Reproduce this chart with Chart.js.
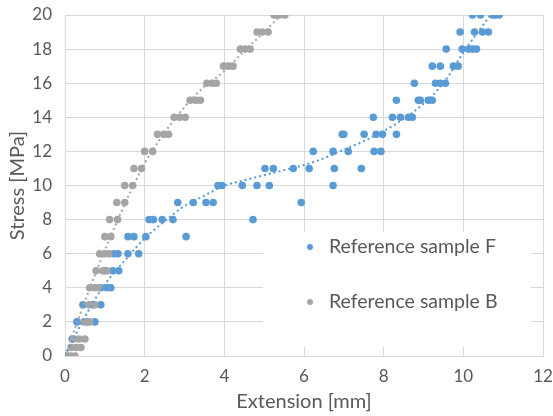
<!DOCTYPE html>
<html lang="en">
<head>
    <meta charset="UTF-8">
    <title>Stress vs Extension</title>
    <script src="https://cdn.jsdelivr.net/npm/chart.js"></script>
    <style>
        html, body { margin: 0; padding: 0; background: #fff; }
        #wrap { width: 553px; height: 416px; }
    </style>
</head>
<body>
    <div id="wrap"><canvas id="stressChart" width="553" height="416"></canvas></div>

    <script>
        // Reference sample F (blue)
        const sampleFx = [0.05, 0.18, 0.3, 0.55, 0.75, 0.45, 0.7, 0.9, 0.9, 1.05, 1.15, 1.0, 1.2, 1.35,
            1.22, 1.33, 1.58, 1.85, 1.58, 1.73, 2.03, 3.04, 2.11, 2.22, 2.44, 2.71, 4.72,
            2.83, 3.22, 3.54, 3.72, 5.93, 3.84, 3.94, 4.45, 4.82, 5.13, 6.73,
            5.02, 5.23, 5.73, 6.13, 6.76, 7.44, 6.23, 6.73, 7.11, 7.76, 7.93,
            6.96, 7.0, 7.51, 7.81, 7.97, 8.32, 7.74, 8.22, 8.42, 8.62, 8.72,
            8.32, 8.87, 8.92, 9.12, 9.22, 8.77, 9.3, 9.42, 9.55, 9.22, 9.42, 9.75, 9.87,
            9.57, 9.97, 10.13, 10.23, 10.33, 9.92, 10.28, 10.48, 10.63,
            10.23, 10.43, 10.73, 10.8, 10.9];
        const sampleFy = [0, 1, 2, 2, 2, 3, 3, 3, 4, 4, 4, 5, 5, 5,
            6, 6, 6, 6, 7, 7, 7, 7, 8, 8, 8, 8, 8,
            9, 9, 9, 9, 9, 10, 10, 10, 10, 10, 10,
            11, 11, 11, 11, 11, 11, 12, 12, 12, 12, 12,
            13, 13, 13, 13, 13, 13, 14, 14, 14, 14, 14,
            15, 15, 15, 15, 15, 16, 16, 16, 16, 17, 17, 17, 17,
            18, 18, 18, 18, 18, 19, 19, 19, 19,
            20, 20, 20, 20, 20];

        // Reference sample B (grey)
        const sampleBx = [0.05, 0.15, 0.25, 0.15, 0.28, 0.4, 0.22, 0.35, 0.5, 0.47, 0.62,
            0.6, 0.75, 0.62, 0.75, 0.85, 0.78, 0.95, 1.05, 0.87, 1.0, 1.1,
            1.0, 1.15, 1.12, 1.32, 1.3, 1.5, 1.5, 1.7, 1.73, 1.92, 2.0, 2.2,
            2.32, 2.48, 2.6, 2.74, 2.88, 3.02, 3.14, 3.28, 3.4, 3.56, 3.7, 3.8,
            3.98, 4.1, 4.22, 4.4, 4.52, 4.65, 4.82, 4.95, 5.1, 5.25, 5.38, 5.52];
        const sampleBy = [0, 0, 0, 0.5, 0.5, 0.5, 1, 1, 1, 2, 2,
            3, 3, 4, 4, 4, 5, 5, 5, 6, 6, 6,
            7, 7, 8, 8, 9, 9, 10, 10, 11, 11, 12, 12,
            13, 13, 13, 14, 14, 14, 15, 15, 15, 16, 16, 16,
            17, 17, 17, 18, 18, 18, 19, 19, 19, 20, 20, 20];

        // dotted trendlines
        const trendFx = [0, 0.5, 1, 1.5, 2, 2.5, 3, 3.5, 4, 4.5, 5, 5.5, 6, 6.5, 7, 7.5, 8, 8.5, 9, 9.5, 10, 10.68];
        const trendFy = [0, 2.3, 4.2, 5.6, 6.9, 7.9, 8.8, 9.4, 10.0, 10.3, 10.6, 10.9, 11.2, 11.6, 12.1, 12.6, 13.2, 13.9, 14.8, 16.0, 17.8, 20];
        const trendBx = [0, 0.5, 1, 1.5, 2, 2.5, 3, 3.5, 4, 4.5, 5, 5.42];
        const trendBy = [0, 3.2, 6.2, 8.9, 11.3, 13.1, 14.6, 15.8, 16.7, 17.9, 19.0, 20];

        const xTicks = [0, 2, 4, 6, 8, 10, 12];
        const yTicks = [0, 2, 4, 6, 8, 10, 12, 14, 16, 18, 20];

        const blue = '#5b9bd5';
        const grey = '#a5a5a5';
        const textColor = '#595959';
        const gridColor = '#d9d9d9';
        const fontFamily = 'Lato, "Open Sans", sans-serif';

        function pairs(xs, ys) {
            return xs.map((x, i) => ({ x: x, y: ys[i] }));
        }

        // legend drawn inside the plot area on a white box
        const boxLegend = {
            id: 'boxLegend',
            beforeDatasetsDraw(chart) {
                const ctx = chart.ctx;
                const items = [
                    { label: chart.data.datasets[2].label, color: blue, y: 247 },
                    { label: chart.data.datasets[3].label, color: grey, y: 302 }
                ];
                ctx.save();
                ctx.fillStyle = '#ffffff';
                ctx.fillRect(263, 232, 268, 115);
                ctx.font = '19.5px ' + fontFamily;
                ctx.textBaseline = 'middle';
                items.forEach(it => {
                    ctx.fillStyle = it.color;
                    ctx.beginPath();
                    ctx.arc(310, it.y, 3, 0, Math.PI * 2);
                    ctx.fill();
                    ctx.fillStyle = textColor;
                    ctx.fillText(it.label, 329, it.y);
                });
                ctx.restore();
            }
        };

        const ctx = document.getElementById('stressChart').getContext('2d');
        new Chart(ctx, {
            type: 'scatter',
            data: {
                datasets: [
                    {
                        label: 'trend F',
                        data: pairs(trendFx, trendFy),
                        showLine: true,
                        borderColor: blue,
                        borderWidth: 2,
                        borderDash: [2, 3],
                        pointRadius: 0,
                        cubicInterpolationMode: 'monotone'
                    },
                    {
                        label: 'trend B',
                        data: pairs(trendBx, trendBy),
                        showLine: true,
                        borderColor: grey,
                        borderWidth: 2,
                        borderDash: [2, 3],
                        pointRadius: 0,
                        cubicInterpolationMode: 'monotone'
                    },
                    {
                        label: 'Reference sample F',
                        data: pairs(sampleFx, sampleFy),
                        backgroundColor: blue,
                        borderColor: blue,
                        borderWidth: 0,
                        pointRadius: 3.8,
                        order: 3
                    },
                    {
                        label: 'Reference sample B',
                        data: pairs(sampleBx, sampleBy),
                        backgroundColor: grey,
                        borderColor: grey,
                        borderWidth: 0,
                        pointRadius: 3.8,
                        order: 2
                    }
                ]
            },
            options: {
                responsive: false,
                animation: false,
                layout: { padding: { top: 15, right: 10, left: 0, bottom: 0 } },
                plugins: {
                    legend: { display: false },
                    tooltip: { enabled: false }
                },
                scales: {
                    x: {
                        type: 'linear',
                        min: 0,
                        max: 12,
                        afterBuildTicks: axis => { axis.ticks = xTicks.map(v => ({ value: v })); },
                        afterFit: axis => {
                            axis.height = 60;
                            axis.paddingLeft = 0;
                            axis.paddingRight = 0;
                        },
                        grid: { color: gridColor, drawTicks: false },
                        border: { color: gridColor },
                        ticks: {
                            color: textColor,
                            padding: 10,
                            font: { family: fontFamily, size: 17 }
                        },
                        title: {
                            display: true,
                            text: 'Extension [mm]',
                            color: textColor,
                            padding: { top: 0, bottom: 2 },
                            font: { family: fontFamily, size: 20 }
                        }
                    },
                    y: {
                        type: 'linear',
                        min: 0,
                        max: 20,
                        afterBuildTicks: axis => { axis.ticks = yTicks.map(v => ({ value: v })); },
                        afterFit: axis => {
                            axis.width = 65;
                            axis.paddingTop = 0;
                            axis.paddingBottom = 0;
                        },
                        grid: { color: gridColor, drawTicks: false },
                        border: { color: gridColor },
                        ticks: {
                            color: textColor,
                            padding: 13,
                            font: { family: fontFamily, size: 17 }
                        },
                        title: {
                            display: true,
                            text: 'Stress [MPa]',
                            color: textColor,
                            padding: { top: 6, bottom: 0 },
                            font: { family: fontFamily, size: 20 }
                        }
                    }
                }
            },
            plugins: [boxLegend]
        });
    </script>
</body>
</html>
